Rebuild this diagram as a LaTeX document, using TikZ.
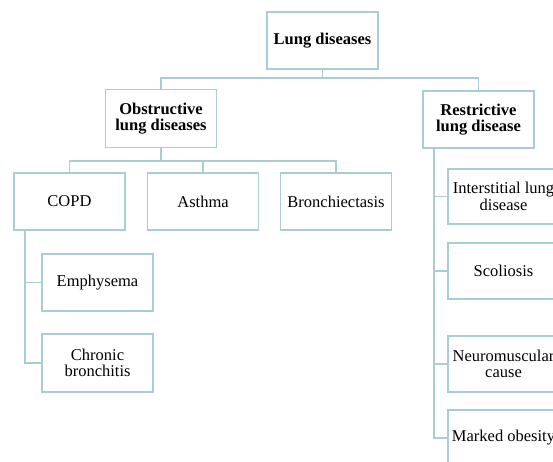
\documentclass[tikz,border=0pt]{standalone}
\usepackage{fontspec}
\setmainfont{Liberation Serif}
\definecolor{edge}{HTML}{A8CDD2}
\begin{document}
\begin{tikzpicture}[x=1pt,y=-1pt,
  box/.style={draw=edge,line width=1.7pt,fill=white,minimum width=111pt,minimum height=57pt,align=center,inner sep=2pt,font=\fontsize{16.5}{16.5}\selectfont},
  head/.style={box,font=\fontsize{16.5}{16.5}\selectfont\bfseries},
  link/.style={draw=edge,line width=1.7pt}]
\useasboundingbox (0,0) rectangle (553,461);
\clip (0,0) rectangle (553,461);
\node[head] (top) at (322.5,40.5) {Lung diseases};
\node[head,minimum height=58pt] (obs) at (161,118.5) {Obstructive\\lung diseases};
\node[head] (res) at (478.5,119.5) {Restrictive\\lung disease};
\node[box] (copd) at (69.5,201.5) {COPD};
\node[box] (asthma) at (203,201.5) {Asthma};
\node[box] (bronch) at (336,201.5) {Bronchiectasis};
\node[box] (emph) at (97.5,282.5) {Emphysema};
\node[box,minimum height=58pt] (chron) at (97.5,363) {Chronic\\bronchitis};
\node[box,minimum height=55pt] (inter) at (503.5,196.5) {Interstitial lung\\disease};
\node[box,minimum height=56pt] (scol) at (503.5,271) {Scoliosis};
\node[box,minimum height=56pt] (neuro) at (503.5,364) {Neuromuscular\\cause};
\node[box,minimum height=56pt] (obes) at (503.5,438) {Marked obesity};
\coordinate (j1) at (322.5,78);
\coordinate (j2) at (161,161);
\draw[link] (top.south) -- (j1) -| (obs.north);
\draw[link] (j1) -| (res.north);
\draw[link] (obs.south) -- (j2) -| (copd.north);
\draw[link] (j2) -| (asthma.north);
\draw[link] (j2) -| (bronch.north);
\draw[link] ([xshift=12pt]copd.south west) |- (emph.west);
\draw[link] ([xshift=12pt]copd.south west) |- (chron.west);
\draw[link] ([xshift=12pt]res.south west) |- (inter.west);
\draw[link] ([xshift=12pt]res.south west) |- (scol.west);
\draw[link] ([xshift=12pt]res.south west) |- (neuro.west);
\draw[link] ([xshift=12pt]res.south west) |- (obes.west);
\end{tikzpicture}
\end{document}
